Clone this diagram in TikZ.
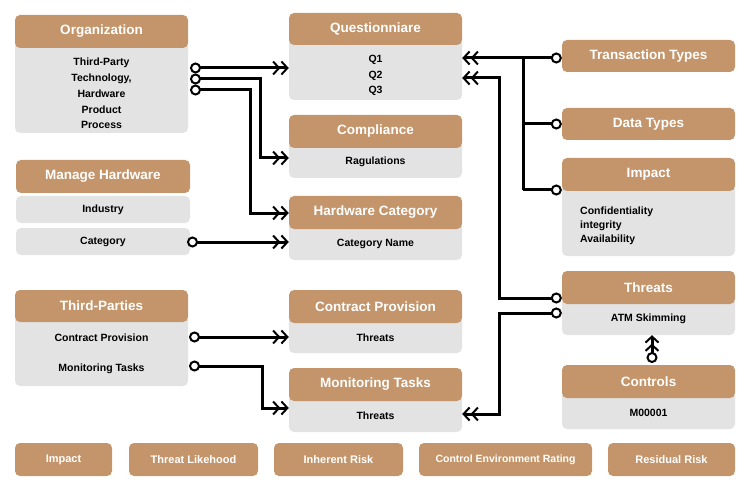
\documentclass[tikz,border=0pt]{standalone}
\usepackage{fontspec}
\setmainfont{Liberation Sans}
\usetikzlibrary{arrows.meta}
\definecolor{tan}{HTML}{C4956A}
\definecolor{lg}{HTML}{E3E3E3}
\begin{document}
\begin{tikzpicture}[x=1pt,y=-1pt,
  hdr/.style={fill=tan,rounded corners=5pt,text=white,font=\bfseries\fontsize{13.5}{15}\selectfont,inner sep=0pt},
  bod/.style={fill=lg,rounded corners=5pt,text=black,font=\bfseries\fontsize{10.5}{15}\selectfont,inner sep=0pt,align=center},
  con/.style={line width=3pt,{Circle[open,fill=white,length=11pt,width=11pt,line width=2pt]}-{Straight Barb[length=6pt,width=13pt,line width=2pt]Straight Barb[length=6pt,width=13pt,line width=2pt]}},
  conr/.style={line width=3pt,{Straight Barb[length=6pt,width=13pt,line width=2pt]Straight Barb[length=6pt,width=13pt,line width=2pt]}-{Circle[open,fill=white,length=11pt,width=11pt,line width=2pt]}},
  conc/.style={line width=3pt,-{Circle[open,fill=white,length=11pt,width=11pt,line width=2pt]}},
  line/.style={line width=3pt}]
\useasboundingbox (0,0) rectangle (750,500);
\newcommand{\bx}[5]{% style, x1, x2, y1, y2
  \node[#1,minimum width={#3-#2},minimum height={#5-#4}] at ({(#2+#3)/2},{(#4+#5)/2})}
% left column
\bx{bod}{15}{188}{40}{133} (orgb) {};
\node[bod,font=\bfseries\fontsize{10.5}{15.8}\selectfont] (orgt) at (101.5,93.5) {Third-Party\\Technology,\\Hardware\\Product\\Process};
\bx{hdr}{15}{188}{15}{48} (org) {Organization};
\bx{hdr}{16}{190}{160}{193} (mh) {Manage Hardware};
\bx{bod}{16}{190}{196}{223} (mhi) {Industry};
\bx{bod}{16}{190}{228}{255} (mhc) {Category};
\bx{bod}{15}{188}{315}{386} (tpb) {};
\bx{hdr}{15}{188}{290}{322} (tp) {Third-Parties};
\node[bod] (tpb1) at (101.5,338) {Contract Provision};
\node[bod] (tpb2) at (101.5,369) {Monitoring Tasks};
% middle column
\bx{bod}{289}{462}{38}{100} (qb) {};
\node[bod,font=\bfseries\fontsize{10.5}{15.5}\selectfont] (qt) at (375.5,75.5) {Q1\\Q2\\Q3};
\bx{hdr}{289}{462}{13}{45} (q) {Questionniare};
\bx{bod}{289}{462}{140}{178} (cb) {\\[-1pt]Ragulations};
\bx{hdr}{289}{462}{115}{148} (c) {Compliance};
\bx{bod}{289}{462}{222}{260} (hb) {\\[-1pt]Category Name};
\bx{hdr}{289}{462}{196}{229} (h) {Hardware Category};
\bx{bod}{289}{462}{316}{353} (cpb) {\\[-1pt]Threats};
\bx{hdr}{289}{462}{290}{323} (cp) {Contract Provision};
\bx{bod}{289}{462}{394}{432} (mtb) {\\[-1pt]Threats};
\bx{hdr}{289}{462}{368}{401} (mt) {Monitoring Tasks};
% right column
\bx{hdr}{562}{735}{40}{72} (tt) {Transaction Types};
\bx{hdr}{562}{735}{108}{140} (dt) {Data Types};
\bx{bod}{562}{735}{184}{256} (ib) {};
\node[bod,align=left,anchor=west] (ibt) at (580,226) {Confidentiality\\[-1pt]integrity\\[-1pt]Availability};
\bx{hdr}{562}{735}{158}{191} (im) {Impact};
\bx{bod}{562}{735}{297}{335} (thb) {\\[-1pt]ATM Skimming};
\bx{hdr}{562}{735}{271}{304} (th) {Threats};
\bx{bod}{562}{735}{391}{429} (ctb) {\\[-1pt]M00001};
\bx{hdr}{562}{735}{365}{398} (ct) {Controls};
% bottom row
\bx{hdr}{15}{112}{443}{476} (b1) {\fontsize{11}{13}\selectfont Impact};
\bx{hdr}{129}{258}{443}{476} (b2) {\fontsize{11}{13}\selectfont Threat Likehood};
\bx{hdr}{274}{403}{443}{476} (b3) {\fontsize{11}{13}\selectfont Inherent Risk};
\bx{hdr}{419}{592}{443}{476} (b4) {\fontsize{10.5}{13}\selectfont Control Environment Rating};
\bx{hdr}{608}{735}{443}{476} (b5) {\fontsize{11}{13}\selectfont Residual Risk};
% connectors
\draw[con] (190,68) -- (qb.west |- 0,68);
\draw[con] (190,79) -- (260,79) |- (cb.west |- 0,158);
\draw[con] (190,90) -- (250,90) |- (hb.west |- 0,213);
\draw[con] (187,242) -- (hb.west |- 0,242);
\draw[con] (189,337) -- (cpb.west |- 0,337);
\draw[con] (189,366) -- (262,366) |- (mtb.west |- 0,408);
\draw[conr] (qb.east |- 0,58) -- (tt.west |- 0,58);
\draw[line] (523,58) -- (523,190);
\draw[conc] (523,124) -- (dt.west |- 0,124);
\draw[conc] (523,190) -- (im.west |- 0,190);
\draw[conr] (qb.east |- 0,78) -- (499,78) |- (th.west |- 0,298);
\draw[conr] (mtb.east |- 0,414) -- (499,414) |- (thb.west |- 0,313);
\draw[con] (652,363) -- (thb.south -| 652,0);
\end{tikzpicture}
\end{document}
